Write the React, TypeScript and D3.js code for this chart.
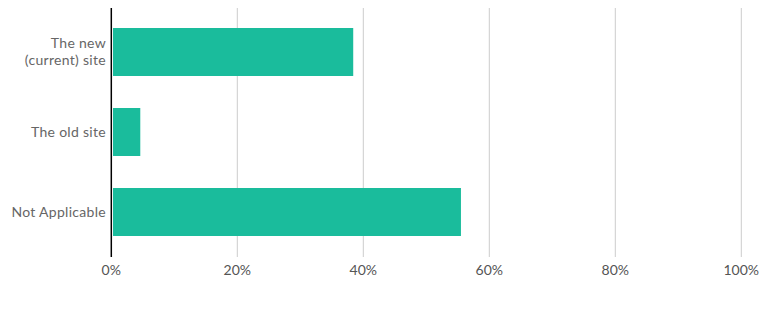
import React from "react";
import * as d3 from "d3";

const categories: string[][] = [["The new", "(current) site"], ["The old site"], ["Not Applicable"]];
const values: number[] = [38.4, 4.6, 55.5];
const ticks: number[] = [0, 20, 40, 60, 80, 100];

export default function App() {
  const width = 774, height = 312;
  const x = d3.scaleLinear().domain([0, 100]).range([111.3, 741.3]);
  const y = d3.scaleBand<number>().domain(d3.range(categories.length)).range([8, 256]).paddingInner(0.4).paddingOuter(0.25);
  const font = "Lato, 'Open Sans', sans-serif";
  return (
    <svg width={width} height={height} style={{ position: "absolute", left: 0, top: 0 }}>
      {ticks.slice(1).map((t) => (
        <line key={t} x1={x(t)} x2={x(t)} y1={8} y2={257} stroke="#cccccc" strokeWidth={1} />
      ))}
      {values.map((v, i) => (
        <rect key={i} x={x(0) + 1.7} y={y(i)} width={x(v) - x(0) - 1.7} height={y.bandwidth()} fill="#1abc9c" />
      ))}
      <line x1={x(0)} x2={x(0)} y1={8} y2={257} stroke="#000" strokeWidth={1.5} />
      {categories.map((lines, i) => {
        const cy = (y(i) as number) + y.bandwidth() / 2;
        const lh = 17;
        return (
          <text key={i} x={106} textAnchor="end" fontFamily={font} fontSize={14} letterSpacing={0.3} fill="#666">
            {lines.map((l, j) => (
              <tspan key={j} x={106} y={cy + (j - (lines.length - 1) / 2) * lh} dy="0.35em">{l}</tspan>
            ))}
          </text>
        );
      })}
      {ticks.map((t) => (
        <text key={t} x={x(t)} y={270} dy="0.35em" textAnchor="middle" fontFamily={font} fontSize={14} fill="#555">
          {t}%
        </text>
      ))}
    </svg>
  );
}
